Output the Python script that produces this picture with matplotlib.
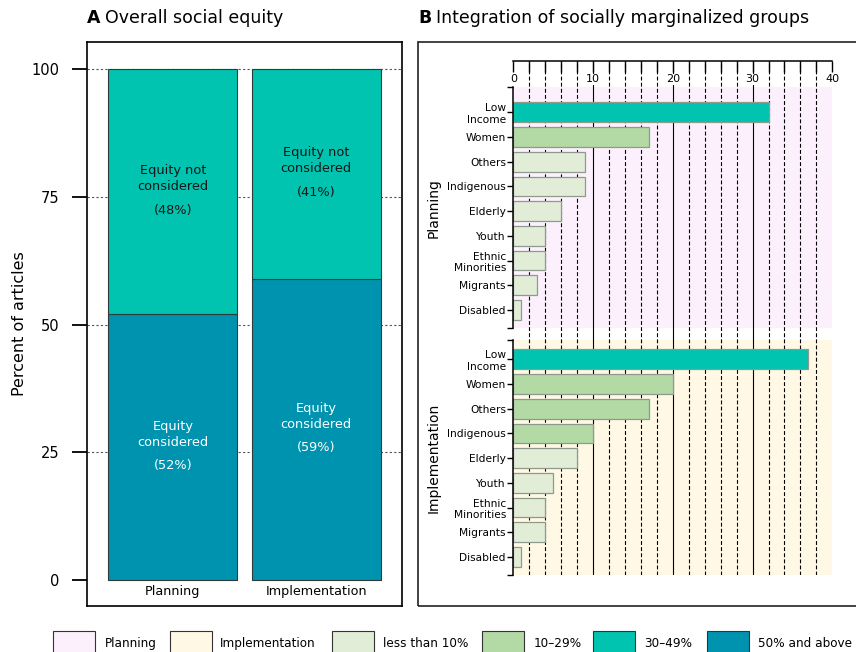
import matplotlib
matplotlib.use('Agg')
import matplotlib.pyplot as plt
import numpy as np
from matplotlib.patches import Rectangle

plt.rcParams['font.family'] = ['DejaVu Sans']

# ---- data ----
stages = ['Planning', 'Implementation']
considered = [52, 59]
not_considered = [48, 41]

groups = ['Low\nIncome', 'Women', 'Others', 'Indigenous', 'Elderly', 'Youth',
          'Ethnic\nMinorities', 'Migrants', 'Disabled']
planning_pct = [32, 17, 9, 9, 6, 4, 4, 3, 1]
implementation_pct = [37, 20, 17, 10, 8, 5, 4, 4, 1]

legend_labels = ['Planning', 'Implementation', 'less than 10%', '10–29%', '30–49%', '50% and above']

# ---- colours ----
C_PLAN = '#FCF0FC'
C_IMPL = '#FFF8E5'
C_LT10 = '#E1EDD6'
C_10 = '#B3DAA5'
C_30 = '#00C4B0'
C_50 = '#0093AF'
legend_colors = [C_PLAN, C_IMPL, C_LT10, C_10, C_30, C_50]


def bin_color(v):
    if v < 10:
        return C_LT10
    if v < 30:
        return C_10
    if v < 50:
        return C_30
    return C_50


W, H = 856, 652
fig = plt.figure(figsize=(W / 100, H / 100), dpi=100)


def box(x0, y0, x1, y1):
    return [x0 / W, 1 - y1 / H, (x1 - x0) / W, (y1 - y0) / H]


# ---------------- panel A ----------------
axA = fig.add_axes(box(87, 42, 402, 606))
x = np.arange(len(stages))
axA.bar(x, considered, width=0.9, color=C_50, edgecolor='#2d3b3b', lw=0.8, zorder=2)
axA.bar(x, not_considered, bottom=considered, width=0.9, color=C_30,
        edgecolor='#2d3b3b', lw=0.8, zorder=2)
axA.set_xlim(-0.6, 1.6)
axA.set_ylim(-5.1, 105.3)
for v in [25, 50, 75, 100]:
    axA.axhline(v, color='#555555', lw=0.8, ls=(0, (2, 2)), zorder=1)
axA.set_yticks([0, 25, 50, 75, 100])
axA.tick_params(axis='y', direction='out', length=10.8, width=1.3, labelsize=10.5, pad=9)
axA.set_xticks(x)
axA.set_xticklabels(stages, fontsize=9.2)
axA.tick_params(axis='x', length=0, pad=-15)
for s in axA.spines.values():
    s.set_linewidth(1.2)
axA.set_ylabel('Percent of articles', fontsize=11.5)
axA.yaxis.set_label_coords(-0.19, 0.5)

for i in range(len(stages)):
    lo_mid = considered[i] / 2
    hi_mid = considered[i] + not_considered[i] / 2
    axA.annotate('Equity\nconsidered', (x[i], lo_mid), xytext=(0, 9.4), textcoords='offset points',
                 ha='center', va='center', color='white', fontsize=9.3, linespacing=1.3, zorder=3)
    axA.annotate('(%d%%)' % considered[i], (x[i], lo_mid), xytext=(0, -13.5), textcoords='offset points',
                 ha='center', va='center', color='white', fontsize=9.3, zorder=3)
    axA.annotate('Equity not\nconsidered', (x[i], hi_mid), xytext=(0, 9.4), textcoords='offset points',
                 ha='center', va='center', color='#151515', fontsize=9.3, linespacing=1.3, zorder=3)
    axA.annotate('(%d%%)' % not_considered[i], (x[i], hi_mid), xytext=(0, -13.5), textcoords='offset points',
                 ha='center', va='center', color='#151515', fontsize=9.3, zorder=3)

# ---------------- panel B ----------------
fig.add_artist(Rectangle((418 / W, 1 - 606 / H), 1.0, (606 - 42) / H, transform=fig.transFigure,
                         fill=False, lw=1.2, edgecolor='#222222'))

# background axes: top scale, grid and shaded regions (y in pixel units)
axT = fig.add_axes(box(513.3, 61, 832.3, 575), zorder=0)
axT.set_xlim(0, 40)
axT.set_ylim(575, 61)
axT.axhspan(87.3, 328, color=C_PLAN, lw=0, zorder=0)
axT.axhspan(340, 575, color=C_IMPL, lw=0, zorder=0)
for v in range(2, 40, 2):
    axT.axvline(v, color='black', lw=0.8, ls='-' if v % 10 == 0 else (0, (3.5, 2)), zorder=1)
for sp in ['left', 'right', 'bottom']:
    axT.spines[sp].set_visible(False)
axT.spines['top'].set_linewidth(1.1)
axT.xaxis.tick_top()
axT.set_xticks(range(0, 41, 10))
axT.set_xticks(range(0, 41, 2), minor=True)
axT.tick_params(axis='x', which='both', direction='in', length=7.9, width=1.0, labeltop=False)
axT.set_yticks([])
for v in range(0, 41, 10):
    axT.text(v, 79.5, str(v), ha='center', va='center', fontsize=8,
             bbox=dict(facecolor='white', edgecolor='none', pad=0.6), zorder=3)
axT.patch.set_alpha(0)

pos = np.arange(len(groups))


def group_panel(rect, values, top, label):
    ax = fig.add_axes(rect, zorder=2)
    ax.patch.set_alpha(0)
    ax.barh(pos, values, height=0.8, color=[bin_color(v) for v in values],
            edgecolor='#8f9a8f', lw=0.9, zorder=2)
    ax.set_xlim(0, 40)
    ax.set_ylim(8.73, top)
    ax.set_xticks([])
    ax.set_yticks(pos)
    ax.set_yticklabels(groups, fontsize=7.7)
    ax.set_yticks([top, 8.73], minor=True)
    ax.tick_params(axis='y', which='both', length=4.3, width=1.0, pad=1)
    for sp in ['top', 'right', 'bottom']:
        ax.spines[sp].set_visible(False)
    ax.spines['left'].set_linewidth(1.1)
    ax.set_ylabel(label, fontsize=10)
    ax.yaxis.set_label_coords(-0.228, 0.5)
    return ax


axP = group_panel(box(513.3, 87.3, 832.3, 328), planning_pct, -1.01, 'Planning')
axI = group_panel(box(513.3, 340, 832.3, 575), implementation_pct, -0.78, 'Implementation')

# ---------------- titles ----------------
fig.text(87 / W, 1 - 18 / H, 'A', fontsize=12.5, fontweight='bold', va='center')
fig.text(105 / W, 1 - 18 / H, 'Overall social equity', fontsize=12.5, va='center')
fig.text(418 / W, 1 - 18 / H, 'B', fontsize=12.5, fontweight='bold', va='center')
fig.text(436 / W, 1 - 18 / H, 'Integration of socially marginalized groups', fontsize=12.5, va='center')

# ---------------- legend ----------------
box_x = [52.7, 170, 332.3, 482.3, 593.3, 706.7]
text_x = [105, 220, 383.3, 533.3, 644, 758]
for bx, tx, lab, col in zip(box_x, text_x, legend_labels, legend_colors):
    fig.add_artist(Rectangle((bx / W, 1 - 661 / H), 42 / W, 30 / H, transform=fig.transFigure,
                             facecolor=col, edgecolor='#333333', lw=0.8))
    fig.text(tx / W, 1 - 647 / H, lab, fontsize=9.6, fontstretch='condensed', va='baseline')

fig.savefig('out.png', dpi=100)
